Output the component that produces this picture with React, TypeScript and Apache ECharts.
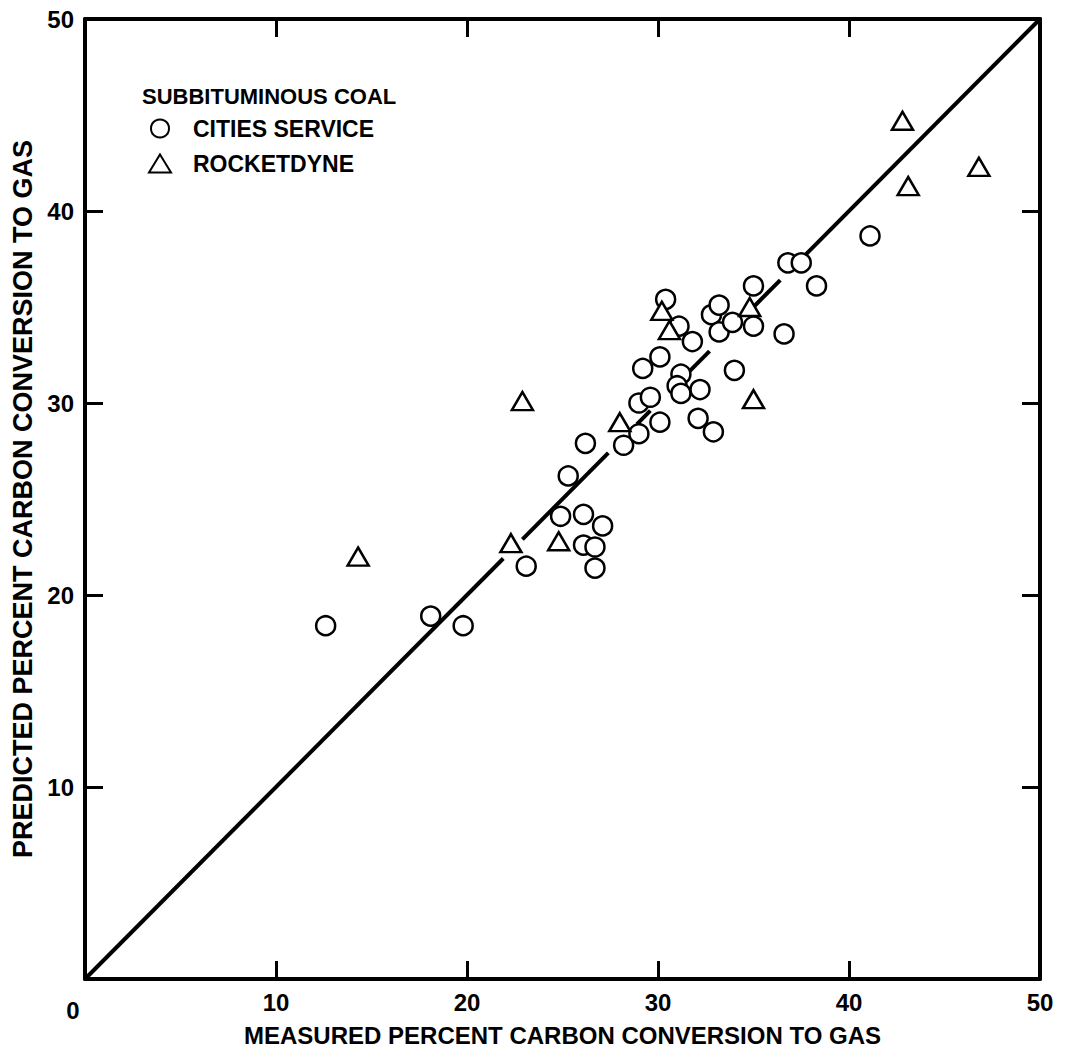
import React, { useEffect, useRef } from "react";
import * as echarts from "echarts";

// Measured (x) vs predicted (y) percent carbon conversion to gas
const citiesService: [number, number][] = [
  [12.6, 18.4], [18.1, 18.9], [19.8, 18.4], [23.1, 21.5],
  [24.9, 24.1], [26.1, 24.2], [27.1, 23.6], [26.1, 22.6], [26.7, 22.5], [26.7, 21.4],
  [25.3, 26.2], [26.2, 27.9], [28.2, 27.8], [29.0, 28.4], [29.0, 30.0], [29.6, 30.3],
  [30.1, 29.0], [32.1, 29.2], [32.9, 28.5], [29.2, 31.8], [30.1, 32.4], [31.2, 31.5],
  [31.0, 30.9], [31.2, 30.5], [32.2, 30.7], [34.0, 31.7],
  [30.4, 35.4], [31.1, 34.0], [31.8, 33.2], [32.8, 34.6], [33.2, 35.1], [33.2, 33.7],
  [33.9, 34.2], [35.0, 36.1], [35.0, 34.0], [36.6, 33.6], [36.8, 37.3], [37.5, 37.3],
  [38.3, 36.1], [41.1, 38.7],
];

const rocketdyne: [number, number][] = [
  [14.3, 22.0], [22.3, 22.7], [22.9, 30.1], [24.8, 22.8], [28.0, 29.0], [30.2, 34.8],
  [30.6, 33.8], [34.8, 35.0], [35.0, 30.2], [42.8, 44.7], [43.1, 41.3], [46.8, 42.3],
];

// pieces of the 45-degree line (x = y), broken where it passes markers
const lineSegments: [number, number][] = [
  [0, 21.9], [22.9, 27.4], [28.9, 29.6], [31.5, 32.7], [35.0, 36.4], [37.6, 50],
];

const axisMin = 0;
const axisMax = 50;
const tickInterval = 10;

const seriesNames = ["CITIES SERVICE", "ROCKETDYNE"];
const legendTitle = "SUBBITUMINOUS COAL";
const xTitle = "MEASURED PERCENT CARBON CONVERSION TO GAS";
const yTitle = "PREDICTED PERCENT CARBON CONVERSION TO GAS";

const FONT = "'Liberation Sans', Arial, Helvetica, sans-serif";

export default function App() {
  const ref = useRef<HTMLDivElement>(null);

  useEffect(() => {
    if (!ref.current) return;
    const chart = echarts.init(ref.current, undefined, { renderer: "svg" });

    const labelStyle = {
      color: "#000",
      fontFamily: FONT,
      fontWeight: "bold" as const,
      fontSize: 24,
      margin: 11,
      formatter: (v: number) => (v === 0 ? "" : String(v)),
    };

    const axisCommon = (showLabels: boolean) => ({
      type: "value" as const,
      min: axisMin,
      max: axisMax,
      interval: tickInterval,
      axisLine: { show: true, onZero: false, lineStyle: { color: "#000", width: 4 } },
      axisTick: { show: true, inside: true, length: 18, lineStyle: { color: "#000", width: 3 } },
      splitLine: { show: false },
      axisLabel: { ...labelStyle, show: showLabels },
    });

    const lineSeries = lineSegments.map(([a, b]) => ({
      type: "line" as const,
      data: [[a, a], [b, b]],
      symbol: "none",
      silent: true,
      lineStyle: { color: "#000", width: 4 },
      z: 1,
    }));

    chart.setOption({
      animation: false,
      backgroundColor: "#fff",
      grid: { left: 85, top: 19, width: 955, height: 960, containLabel: false },
      xAxis: [
        {
          ...axisCommon(true),
          position: "bottom",
          name: xTitle,
          nameLocation: "middle",
          nameGap: 44,
          nameTextStyle: { color: "#000", fontFamily: FONT, fontWeight: "bold", fontSize: 24 },
        },
        { ...axisCommon(false), position: "top" },
      ],
      yAxis: [
        {
          ...axisCommon(true),
          position: "left",
          name: yTitle,
          nameLocation: "middle",
          nameGap: 40,
          nameTextStyle: { color: "#000", fontFamily: FONT, fontWeight: "bold", fontSize: 27 },
        },
        { ...axisCommon(false), position: "right" },
      ],
      legend: {
        data: seriesNames,
        orient: "vertical",
        left: 143,
        top: 112,
        itemWidth: 22,
        itemHeight: 18,
        itemGap: 12,
        textStyle: {
          color: "#000",
          fontFamily: FONT,
          fontWeight: "bold",
          fontSize: 23,
          padding: [0, 0, 0, 17],
        },
      },
      graphic: [
        {
          type: "text",
          left: 142,
          top: 85,
          style: { text: legendTitle, fill: "#000", font: `bold 22px ${FONT}` },
        },
        {
          type: "text",
          x: 73,
          y: 1010,
          style: {
            text: "0",
            fill: "#000",
            font: `bold 24px ${FONT}`,
            align: "center",
            verticalAlign: "middle",
          },
        },
      ],
      series: [
        ...lineSeries,
        {
          name: seriesNames[0],
          type: "scatter",
          data: citiesService,
          symbol: "circle",
          symbolSize: 19,
          itemStyle: { color: "#fff", borderColor: "#000", borderWidth: 2.5, opacity: 1 },
          z: 3,
        },
        {
          name: seriesNames[1],
          type: "scatter",
          data: rocketdyne,
          symbol: "triangle",
          symbolSize: [21, 18],
          itemStyle: { color: "#fff", borderColor: "#000", borderWidth: 2.5, opacity: 1 },
          z: 4,
        },
      ],
    });

    return () => chart.dispose();
  }, []);

  return (
    <div
      ref={ref}
      style={{ position: "absolute", left: 0, top: 0, width: 1067, height: 1055, background: "#fff" }}
    />
  );
}
